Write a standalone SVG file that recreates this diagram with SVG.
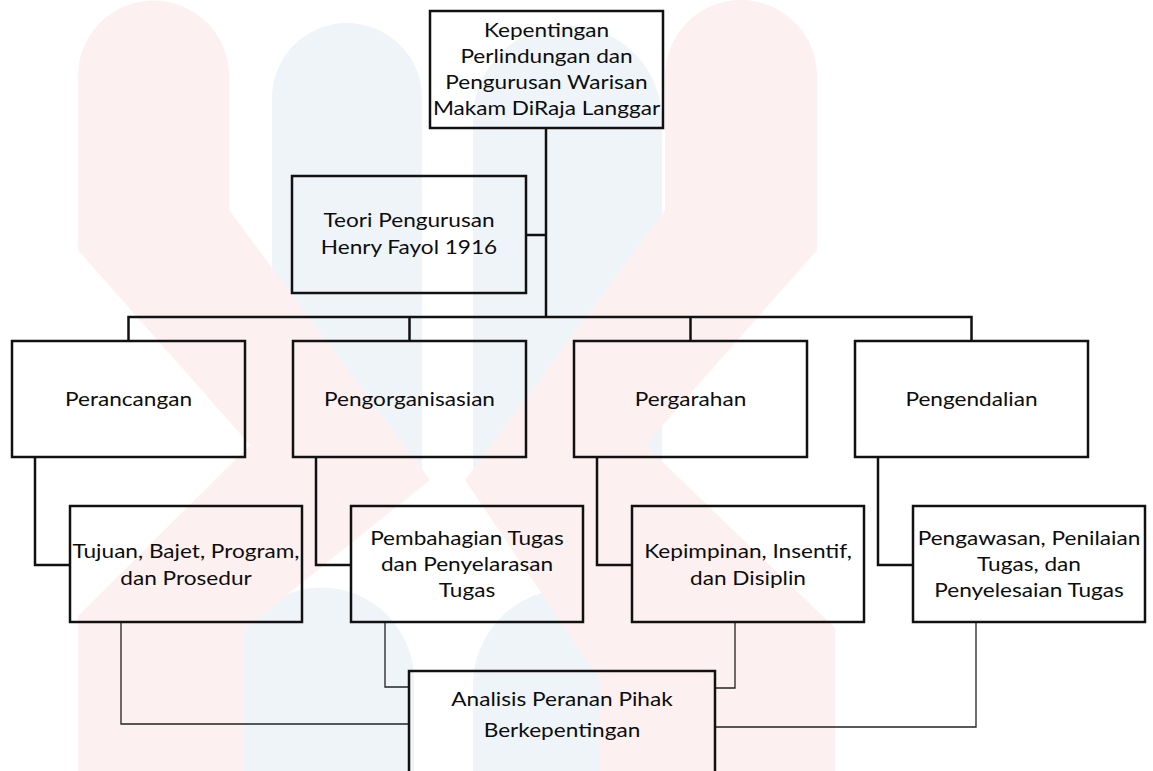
<svg xmlns="http://www.w3.org/2000/svg" width="1153" height="771" viewBox="0 0 1153 771">
<style>
.t { font-family: Lato, "Liberation Sans", sans-serif; font-size: 19px; fill: #0d0d0d; text-anchor: middle; }
.box { fill: none; stroke: #111; stroke-width: 2.5; }
.thick { fill: none; stroke: #111; stroke-width: 2.5; }
.thin { fill: none; stroke: #222; stroke-width: 1.3; }
.pink { fill: #fdf0f0; }
.blue { fill: #eff4f9; }
</style>
<rect width="1153" height="771" fill="#ffffff"/>
<g id="watermark">
  <path class="blue" d="M272,98 A75,75 0 0 1 422,98 L422,480 L272,480 Z"/>
  <path class="blue" d="M473,120 A94.5,94.5 0 0 1 662,120 L662,480 L473,480 Z"/>
  <path class="blue" d="M229,680 A92.5,92.5 0 0 1 414,680 L414,771 L229,771 Z"/>
  <path class="blue" d="M473,685 A96,96 0 0 1 665,685 L665,771 L473,771 Z"/>
  <path class="pink" d="M78,76 A75.5,75.5 0 0 1 229,76 L229,210 L430,480 L244,629 L244,771 L78,771 L78,616 L250,445 L78,250 Z"/>
  <path class="pink" d="M665,76 A76,76 0 0 1 817,76 L817,250 L645,445 L835,628 L835,771 L600,771 L600,680 L465,480 L665,210 Z"/>
</g>
<g id="connectors">
  <path class="thick" d="M546,128 V317"/>
  <path class="thick" d="M526,235 H546"/>
  <path class="thick" d="M128.5,341 V317 H971.5 V341"/>
  <path class="thick" d="M409.5,317 V341"/>
  <path class="thick" d="M690.5,317 V341"/>
  <path class="thick" d="M35,457 V565 H70"/>
  <path class="thick" d="M316,457 V565 H351"/>
  <path class="thick" d="M597,457 V565 H632"/>
  <path class="thick" d="M878,457 V565 H913"/>
  <path class="thin" d="M121,622 V724 H409"/>
  <path class="thin" d="M385,622 V687 H409"/>
  <path class="thin" d="M735,622 V688 H715"/>
  <path class="thin" d="M976,622 V727 H715"/>
</g>
<g id="node-top">
  <rect class="box" x="430" y="11" width="233" height="117"/>
  <text class="t" transform="translate(546.5,37) scale(1.19,1)">Kepentingan</text>
  <text class="t" transform="translate(546.5,63) scale(1.19,1)">Perlindungan dan</text>
  <text class="t" transform="translate(546.5,89) scale(1.19,1)">Pengurusan Warisan</text>
  <text class="t" transform="translate(546.5,115) scale(1.19,1)">Makam DiRaja Langgar</text>
</g>
<g id="node-teori">
  <rect class="box" x="292" y="176" width="234" height="117"/>
  <text class="t" transform="translate(409,227) scale(1.19,1)">Teori Pengurusan</text>
  <text class="t" transform="translate(409,254) scale(1.19,1)">Henry Fayol 1916</text>
</g>
<g id="node-perancangan">
  <rect class="box" x="12" y="341" width="233" height="116"/>
  <text class="t" transform="translate(128.5,406) scale(1.19,1)">Perancangan</text>
</g>
<g id="node-pengorganisasian">
  <rect class="box" x="293" y="341" width="233" height="116"/>
  <text class="t" transform="translate(409.5,406) scale(1.19,1)">Pengorganisasian</text>
</g>
<g id="node-pergarahan">
  <rect class="box" x="574" y="341" width="233" height="116"/>
  <text class="t" transform="translate(690.5,406) scale(1.19,1)">Pergarahan</text>
</g>
<g id="node-pengendalian">
  <rect class="box" x="855" y="341" width="233" height="116"/>
  <text class="t" transform="translate(971.5,406) scale(1.19,1)">Pengendalian</text>
</g>
<g id="node-tujuan">
  <rect class="box" x="70" y="506" width="232" height="116"/>
  <text class="t" transform="translate(186,558) scale(1.19,1)">Tujuan, Bajet, Program,</text>
  <text class="t" transform="translate(186,585) scale(1.19,1)">dan Prosedur</text>
</g>
<g id="node-pembahagian">
  <rect class="box" x="351" y="506" width="232" height="116"/>
  <text class="t" transform="translate(467,545) scale(1.19,1)">Pembahagian Tugas</text>
  <text class="t" transform="translate(467,571) scale(1.19,1)">dan Penyelarasan</text>
  <text class="t" transform="translate(467,597) scale(1.19,1)">Tugas</text>
</g>
<g id="node-kepimpinan">
  <rect class="box" x="632" y="506" width="232" height="116"/>
  <text class="t" transform="translate(748,558) scale(1.19,1)">Kepimpinan, Insentif,</text>
  <text class="t" transform="translate(748,585) scale(1.19,1)">dan Disiplin</text>
</g>
<g id="node-pengawasan">
  <rect class="box" x="913" y="506" width="232" height="116"/>
  <text class="t" transform="translate(1029,545) scale(1.19,1)">Pengawasan, Penilaian</text>
  <text class="t" transform="translate(1029,571) scale(1.19,1)">Tugas, dan</text>
  <text class="t" transform="translate(1029,597) scale(1.19,1)">Penyelesaian Tugas</text>
</g>
<g id="node-analisis">
  <rect class="box" x="409" y="671" width="306" height="120"/>
  <text class="t" transform="translate(562,706) scale(1.19,1)">Analisis Peranan Pihak</text>
  <text class="t" transform="translate(562,737) scale(1.19,1)">Berkepentingan</text>
</g>
</svg>
